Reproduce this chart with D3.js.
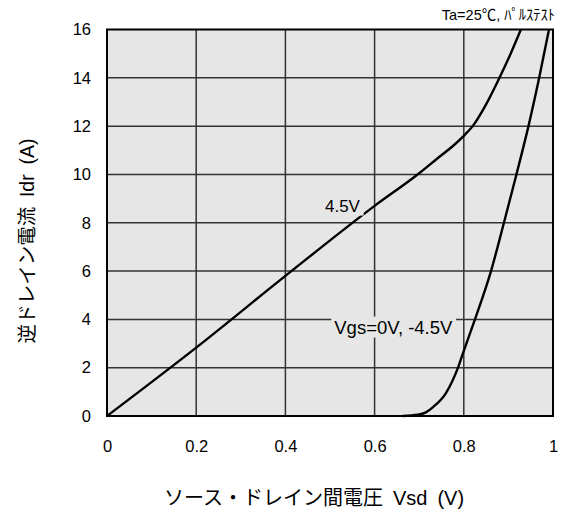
<!DOCTYPE html>
<html>
<head>
<meta charset="utf-8">
<script src="https://cdn.jsdelivr.net/npm/d3@7/dist/d3.min.js"></script>
<style>
  html, body { margin: 0; padding: 0; background: #fff; }
  svg { display: block; font-family: "Liberation Sans", "Noto Sans CJK JP", sans-serif; }
</style>
</head>
<body>
<svg id="chart" width="563" height="512"></svg>
<script>
// Source-drain voltage (V) vs reverse drain current (A)
const xTicks = [0, 0.2, 0.4, 0.6, 0.8, 1];
const xTickLabels = ["0", "0.2", "0.4", "0.6", "0.8", "1"];
const yTicks = [0, 2, 4, 6, 8, 10, 12, 14, 16];
const yTickLabels = ["0", "2", "4", "6", "8", "10", "12", "14", "16"];

// Vgs = 4.5 V
const vsd45 = [0, 0.2, 0.4, 0.6, 0.7, 0.74, 0.78, 0.8, 0.82, 0.85, 0.88, 0.905, 0.928];
const idr45 = [0, 2.83, 5.8, 8.7, 10.05, 10.65, 11.25, 11.6, 12.0, 12.9, 14.0, 15.0, 16.0];

// Vgs = 0 V, -4.5 V
const vsd0 = [0.663, 0.697, 0.715, 0.731, 0.76, 0.787, 0.8, 0.825, 0.861, 0.89, 0.918, 0.945, 0.969, 0.991];
const idr0 = [0, 0.05, 0.15, 0.37, 0.95, 2.0, 2.7, 4.0, 6.0, 8.0, 10.0, 12.0, 14.0, 16.0];

const svg = d3.select("#chart");
const m = { left: 107, right: 553, top: 29.5, bottom: 416 };
const plotFill = "#e6e6e6";

const x = d3.scaleLinear().domain([0, 1]).range([m.left, m.right]);
const y = d3.scaleLinear().domain([0, 16]).range([m.bottom, m.top]);

// plot background
svg.append("rect")
  .attr("x", m.left).attr("y", m.top)
  .attr("width", m.right - m.left).attr("height", m.bottom - m.top)
  .attr("fill", plotFill);

// grid lines
const grid = svg.append("g").attr("stroke", "#333").attr("stroke-width", 1.5);
grid.selectAll("line.v").data(xTicks.slice(1, -1)).join("line")
  .attr("x1", d => x(d)).attr("x2", d => x(d))
  .attr("y1", m.top).attr("y2", m.bottom);
grid.selectAll("line.h").data(yTicks.slice(1, -1)).join("line")
  .attr("x1", m.left).attr("x2", m.right)
  .attr("y1", d => y(d)).attr("y2", d => y(d));

// axes (labels only)
const xAxis = d3.axisBottom(x).tickValues(xTicks)
  .tickFormat((d, i) => xTickLabels[i]).tickSize(0).tickPadding(0);
const gx = svg.append("g").attr("transform", `translate(0,${m.bottom})`).call(xAxis);
gx.select(".domain").remove();
gx.selectAll("text").attr("y", 36).attr("dy", null)
  .attr("font-size", 16.5).attr("fill", "#000")
  .attr("font-family", "'Liberation Sans', Arial, sans-serif");

const yAxis = d3.axisLeft(y).tickValues(yTicks)
  .tickFormat((d, i) => yTickLabels[i]).tickSize(0).tickPadding(16);
const gy = svg.append("g").attr("transform", `translate(${m.left},0)`).call(yAxis);
gy.select(".domain").remove();
gy.selectAll("text").attr("font-size", 16.5).attr("fill", "#000")
  .attr("font-family", "'Liberation Sans', Arial, sans-serif");

// curves
const line = d3.line().x(d => x(d[0])).y(d => y(d[1])).curve(d3.curveMonotoneX);
const series = [d3.zip(vsd45, idr45), d3.zip(vsd0, idr0)];
svg.append("g").selectAll("path").data(series).join("path")
  .attr("d", line)
  .attr("fill", "none").attr("stroke", "#000").attr("stroke-width", 2.4)
  .attr("stroke-linejoin", "round");

// curve labels with plot-coloured backing
function curveLabel(text, cx, cy, size) {
  const g = svg.append("g");
  const t = g.append("text").attr("x", cx).attr("y", cy)
    .attr("text-anchor", "middle").attr("dominant-baseline", "central")
    .attr("font-size", size).attr("fill", "#000").text(text);
  const b = t.node().getBBox();
  g.insert("rect", "text")
    .attr("x", b.x - 3).attr("y", b.y).attr("width", b.width + 6).attr("height", b.height)
    .attr("fill", plotFill);
}
curveLabel("4.5V", x(0.528), y(8.69), 17);
curveLabel("Vgs=0V, -4.5V", x(0.642), y(3.68), 18.5);

// frame
svg.append("rect")
  .attr("x", m.left).attr("y", m.top)
  .attr("width", m.right - m.left).attr("height", m.bottom - m.top)
  .attr("fill", "none").attr("stroke", "#000").attr("stroke-width", 2);

// axis titles
svg.append("text")
  .attr("x", 314).attr("y", 505).attr("text-anchor", "middle")
  .attr("font-size", 20)
  .text("ソース・ドレイン間電圧\u2002Vsd\u2002(V)");

svg.append("text")
  .attr("transform", "translate(34,241) rotate(-90)").attr("text-anchor", "middle")
  .attr("font-size", 19.5)
  .text("逆ドレイン電流\u2002Idr\u2002(A)");

// test condition note
svg.append("text")
  .attr("x", 555).attr("y", 20).attr("text-anchor", "end")
  .attr("font-size", 14.5)
  .text("Ta=25℃, ﾊﾟﾙｽﾃｽﾄ");
</script>
</body>
</html>
